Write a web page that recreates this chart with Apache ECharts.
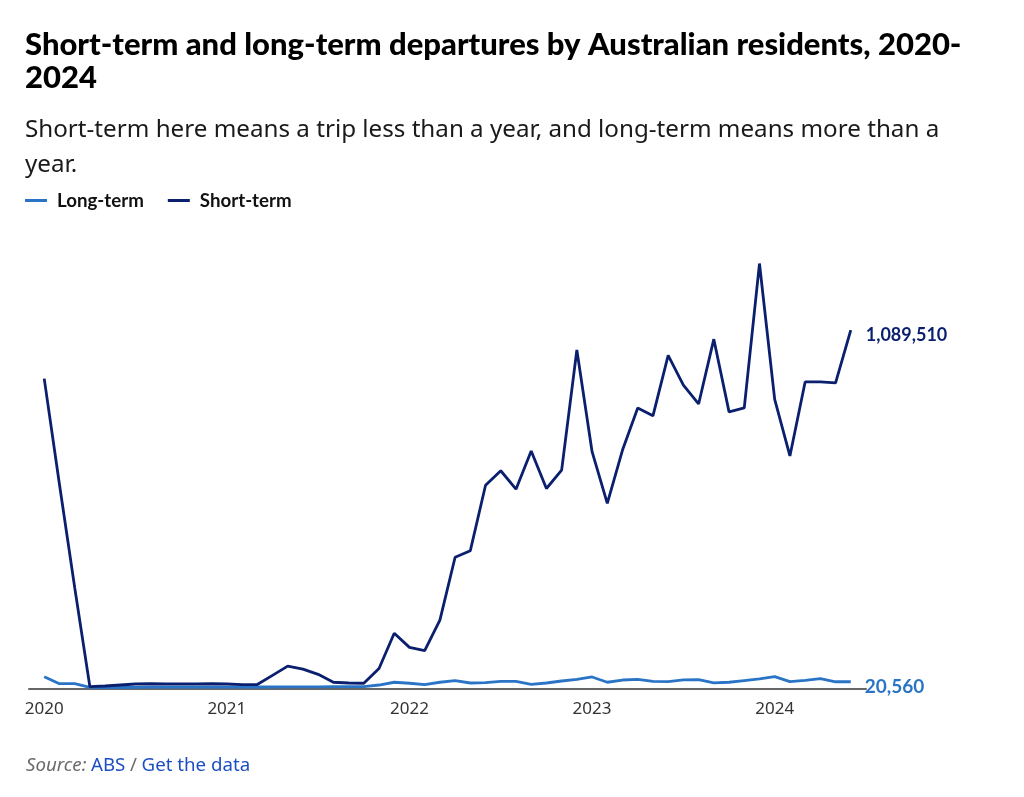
<!DOCTYPE html>
<html>
<head>
<meta charset="utf-8">
<script src="https://cdn.jsdelivr.net/npm/echarts@6/dist/echarts.min.js"></script>
<style>
html,body{margin:0;padding:0;background:#fff;}
#chart{width:1024px;height:797px;}
</style>
</head>
<body>
<div id="chart"></div>
<script>
// Year tick labels
const yearLabels = ['2020', '2021', '2022', '2023', '2024'];
const yearTickIndex = [0, 12, 24, 36, 48];
const monthNames = ['Jan','Feb','Mar','Apr','May','Jun','Jul','Aug','Sep','Oct','Nov','Dec'];
// Monthly categories Jan 2020 – Jun 2024
const months = [];
for (let y = 0; y < yearLabels.length; y++) {
  for (let m = 0; m < 12; m++) {
    if (y === 4 && m > 5) break;
    months.push(monthNames[m] + ' ' + yearLabels[y]);
  }
}
const shortTerm = [942000, 621000, 308000, 5500, 7600, 10600, 13700, 14500, 13700, 13700, 13700, 14500, 13700, 11600, 12000, 40000, 68000, 59000, 43000, 19000, 16700, 16000, 61000, 168000, 125000, 115000, 208000, 399000, 419000, 618000, 662000, 606000, 722000, 608000, 664000, 1029000, 720000, 563000, 725000, 853000, 829000, 1013000, 922000, 865000, 1062000, 841000, 853000, 1292000, 879000, 707000, 932000, 932000, 929000, 1089510];
const longTerm = [36000, 14600, 14600, 3600, 2500, 3000, 3500, 4000, 4000, 4000, 4000, 4000, 4000, 4500, 4500, 4500, 5000, 5000, 5000, 5500, 5500, 5500, 10600, 19000, 16000, 11600, 19000, 23700, 16700, 17700, 21900, 21900, 12700, 16700, 22800, 28000, 35000, 19000, 25800, 28000, 21900, 21000, 26000, 27000, 17000, 19000, 24000, 29000, 36000, 21000, 25000, 30000, 20500, 20560];

const navy = '#0b1f6f';
const blue = '#2a74c6';
const font = 'Lato, "Noto Sans", sans-serif';
const bodyFont = '"Noto Sans", Lato, sans-serif';

const chart = echarts.init(document.getElementById('chart'), null, {renderer: 'canvas'});
const fmt = v => Math.round(v).toLocaleString('en-US');

chart.setOption({
  animation: false,
  textStyle: {fontFamily: font},
  title: [
    {
      text: 'Short-term and long-term departures by Australian residents, 2020-\n2024',
      left: 20, top: 23.5,
      textStyle: {fontFamily: font, fontWeight: 900, fontSize: 31, lineHeight: 33, color: '#000'}
    },
    {
      text: 'Short-term here means a trip less than a year, and long-term means more than a\nyear.',
      left: 20, top: 108,
      textStyle: {fontFamily: bodyFont, fontWeight: 'normal', fontSize: 24.2, lineHeight: 35, color: '#1a1a1a'}
    },
    {
      text: '{i|Source:} {a|ABS} {s|/} {a|Get the data}',
      left: 21, top: 751,
      textStyle: {
        fontWeight: 'normal',
        rich: {
          i: {fontFamily: bodyFont, fontStyle: 'italic', fontWeight: 'normal', fontSize: 18.7, color: '#6b6b6b'},
          a: {fontFamily: bodyFont, fontWeight: 'normal', fontSize: 18.7, color: '#1d4fc4'},
          s: {fontFamily: bodyFont, fontWeight: 'normal', fontSize: 18.7, color: '#6b6b6b'}
        }
      }
    }
  ],
  legend: {
    left: 20, top: 186,
    icon: 'rect',
    itemWidth: 22, itemHeight: 3,
    itemGap: 24,
    textStyle: {fontFamily: font, fontWeight: 'bold', fontSize: 18.7, color: '#111', padding: [0, 0, 0, 5]},
    data: ['Long-term', 'Short-term']
  },
  grid: {left: 29, right: 158, top: 228, bottom: 108.5, containLabel: false},
  xAxis: {
    type: 'value',
    min: -1, max: 54,
    axisLine: {show: true, lineStyle: {color: '#666', width: 2}},
    axisTick: {show: false},
    splitLine: {show: false},
    axisLabel: {
      customValues: yearTickIndex,
      formatter: v => yearLabels[yearTickIndex.indexOf(v)] || '',
      color: '#333', fontSize: 17, margin: 12, fontFamily: bodyFont
    }
  },
  yAxis: {
    type: 'value', min: 0, max: 1400000,
    show: false,
    splitLine: {show: false}
  },
  series: [
    {
      name: 'Long-term', type: 'line',
      data: longTerm.map((v, i) => [i, v]),
      showSymbol: false, symbol: 'none',
      lineStyle: {color: blue, width: 2.8},
      itemStyle: {color: blue},
      z: 2,
      endLabel: {
        show: true, distance: 0, offset: [14, 5],
        formatter: p => fmt(p.value[1]),
        color: blue, fontWeight: 'bold', fontSize: 19, fontFamily: font
      }
    },
    {
      name: 'Short-term', type: 'line',
      data: shortTerm.map((v, i) => [i, v]),
      showSymbol: false, symbol: 'none',
      lineStyle: {color: navy, width: 2.8},
      itemStyle: {color: navy},
      z: 3,
      endLabel: {
        show: true, distance: 0, offset: [15, 5],
        formatter: p => fmt(p.value[1]),
        color: navy, fontWeight: 'bold', fontSize: 18, fontFamily: font
      }
    }
  ]
});
</script>
</body>
</html>
